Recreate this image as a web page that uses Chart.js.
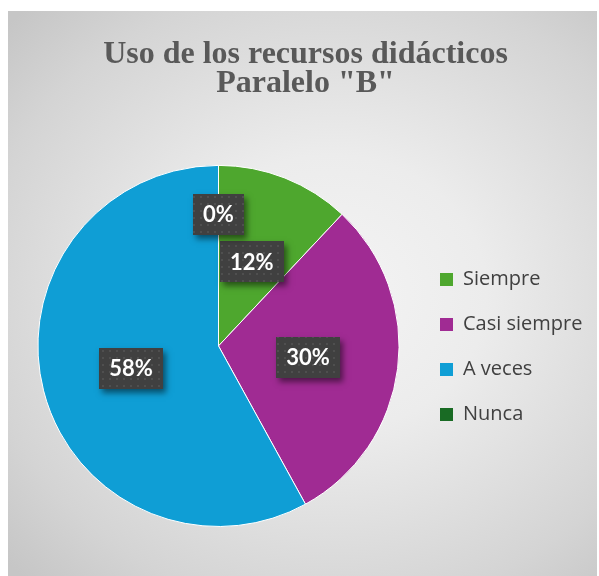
<!DOCTYPE html>
<html>
<head>
<meta charset="utf-8">
<script src="https://cdn.jsdelivr.net/npm/chart.js@4.4.1/dist/chart.umd.min.js"></script>
<style>
  body { margin: 0; background: #fff; }
  .marco {
    position: absolute; left: 8px; top: 11px; width: 589px; height: 565px; overflow: hidden;
    background: radial-gradient(ellipse 75% 70% at 55% 50%, #f4f4f4 0%, #ececec 35%, #d4d4d4 80%, #c6c6c6 100%);
  }
</style>
</head>
<body>
<div class="marco"><canvas id="grafico" width="589" height="565"></canvas></div>
<script>
const categorias = ['Siempre', 'Casi siempre', 'A veces', 'Nunca'];
const porcentajes = [12, 30, 58, 0];
const colores = ['#4EA72E', '#A02B93', '#0F9ED5', '#196B24'];
const titulo = ['Uso de los recursos didácticos', 'Paralelo "B"'];

// trama de puntos para el fondo de las etiquetas
const trama = (() => {
    const c = document.createElement('canvas');
    c.width = 7; c.height = 7;
    const g = c.getContext('2d');
    g.fillStyle = '#404040';
    g.fillRect(0, 0, 7, 7);
    g.fillStyle = '#4f4f4f';
    g.fillRect(3, 3, 2, 2);
    return c;
})();

const etiquetas = {
    id: 'etiquetas',
    afterDatasetsDraw(chart) {
        const ctx = chart.ctx;
        const meta = chart.getDatasetMeta(0);
        const patron = ctx.createPattern(trama, 'repeat');
        ctx.save();
        ctx.font = 'bold 22px Lato';
        ctx.textAlign = 'center';
        ctx.textBaseline = 'middle';
        meta.data.forEach((arc, i) => {
            const p = arc.getProps(['x', 'y', 'startAngle', 'endAngle', 'outerRadius'], true);
            const medio = (p.startAngle + p.endAngle) / 2;
            // la porción vacía lleva su etiqueta más afuera para no tapar la otra
            const f = porcentajes[i] === 0 ? 0.73 : 0.5;
            const lx = p.x + Math.cos(medio) * p.outerRadius * f;
            const ly = p.y + Math.sin(medio) * p.outerRadius * f;
            const texto = porcentajes[i] + '%';
            const w = Math.round(ctx.measureText(texto).width + 20);
            const h = 41;
            const bx = Math.round(lx - w / 2), by = Math.round(ly - h / 2);

            ctx.save();
            ctx.shadowColor = 'rgba(0,0,0,0.5)';
            ctx.shadowBlur = 6;
            ctx.shadowOffsetX = 3;
            ctx.shadowOffsetY = 4;
            ctx.fillStyle = '#404040';
            ctx.fillRect(bx, by, w, h);
            ctx.restore();
            ctx.fillStyle = patron;
            ctx.fillRect(bx, by, w, h);

            ctx.fillStyle = '#ffffff';
            ctx.fillText(texto, lx, ly + 1);
        });
        ctx.restore();
    }
};

const ctx = document.getElementById('grafico').getContext('2d');
new Chart(ctx, {
    type: 'pie',
    data: {
        labels: categorias,
        datasets: [{
            data: porcentajes,
            backgroundColor: colores,
            borderColor: '#ffffff',
            borderWidth: 1
        }]
    },
    options: {
        responsive: false,
        animation: false,
        events: [],
        layout: {
            padding: { left: 14, right: 8, top: 0, bottom: 49 }
        },
        plugins: {
            title: {
                display: true,
                text: titulo,
                color: '#595959',
                font: { family: "'Liberation Serif', 'Times New Roman', serif", size: 32, weight: 'bold', lineHeight: 0.92 },
                padding: { top: 29, bottom: 66 }
            },
            legend: {
                position: 'right',
                maxWidth: 174,
                // título vacío: sólo baja la lista de categorías
                title: {
                    display: true,
                    text: ' ',
                    font: { size: 10, lineHeight: 1 },
                    padding: { top: 146, bottom: 0 }
                },
                labels: {
                    color: '#404040',
                    font: { family: "'Open Sans'", size: 20 },
                    boxWidth: 13,
                    boxHeight: 13,
                    padding: 25,
                    generateLabels(chart) {
                        return Chart.overrides.pie.plugins.legend.labels.generateLabels(chart)
                            .map(l => ({ ...l, lineWidth: 0 }));
                    }
                }
            },
            tooltip: { enabled: false }
        }
    },
    plugins: [etiquetas]
});
</script>
</body>
</html>
